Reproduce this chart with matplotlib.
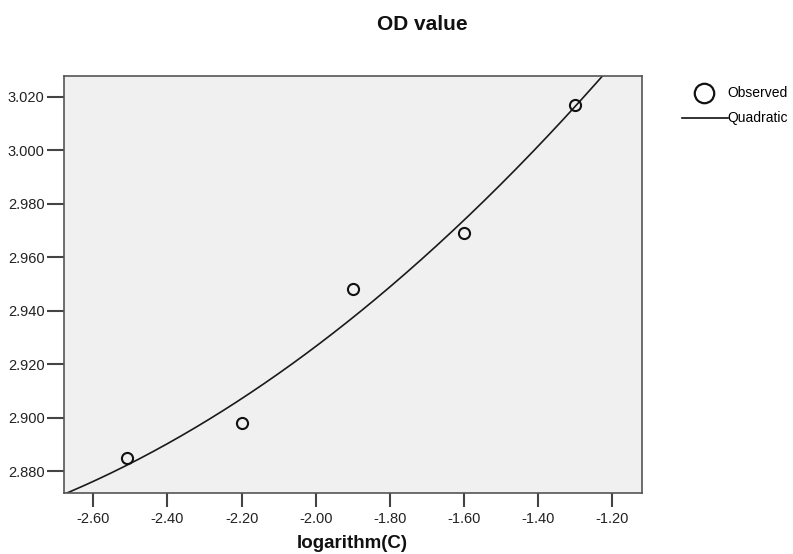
import numpy as np
import matplotlib.pyplot as plt
from matplotlib.lines import Line2D

plt.rcParams['font.family'] = ['Liberation Sans', 'DejaVu Sans']

# observed points (log concentration vs OD value)
log_c = [-2.51, -2.20, -1.90, -1.60, -1.30]
od_value = [2.885, 2.898, 2.948, 2.969, 3.017]

xticks = [-2.60, -2.40, -2.20, -2.00, -1.80, -1.60, -1.40, -1.20]
yticks = [2.880, 2.900, 2.920, 2.940, 2.960, 2.980, 3.000, 3.020]

# quadratic model fitted to the observed points
coef = np.polyfit(log_c, od_value, 2)
xs = np.linspace(-2.70, -1.10, 300)
ys = np.polyval(coef, xs)

W, H = 793, 554
fig = plt.figure(figsize=(W / 100, H / 100), dpi=100)
ax = fig.add_axes([64 / W, 1 - 493 / H, (641.7 - 64) / W, (493 - 75.7) / H])
ax.set_facecolor('#f0f0f0')

ax.plot(xs, ys, color='#1a1a1a', lw=1.2)
ax.plot(log_c, od_value, 'o', ms=8, mfc='none', mec='#111111', mew=1.5)

ax.set_xlim(-2.679, -1.1207)
ax.set_ylim(2.8719, 3.0278)
ax.set_xticks(xticks)
ax.set_yticks(yticks)
ax.set_xticklabels(['%.2f' % v for v in xticks])
ax.set_yticklabels(['%.3f' % v for v in yticks])
ax.tick_params(axis='x', direction='out', length=10, width=1.5, color='#444444',
               labelsize=10.5, pad=4, labelcolor='#222222')
ax.tick_params(axis='y', direction='out', length=12, width=1.5, color='#444444',
               labelsize=10.5, pad=2, labelcolor='#222222')
for s in ax.spines.values():
    s.set_color('#555555')
    s.set_linewidth(1.2)

# x label sits right at the bottom edge, as in the reference
fig.text(352 / W, 1 - 544 / H, 'logarithm(C)', ha='center', va='center',
         fontsize=13.5, fontweight='bold', color='#111111')

fig.text(422 / W, 1 - 25 / H, 'OD value', ha='center', va='center',
         fontsize=15, fontweight='bold', color='#111111')

# legend
fig.add_artist(Line2D([704 / W], [1 - 93 / H], marker='o', ms=14, mfc='none',
                      mec='#111111', mew=1.6, transform=fig.transFigure))
fig.text(727 / W, 1 - 93 / H, 'Observed', ha='left', va='center', fontsize=10)
fig.add_artist(Line2D([682 / W, 728 / W], [1 - 118 / H, 1 - 118 / H],
                      color='#111111', lw=1.2, transform=fig.transFigure))
fig.text(727 / W, 1 - 118 / H, 'Quadratic', ha='left', va='center', fontsize=10)

fig.savefig('out.png', dpi=100)
